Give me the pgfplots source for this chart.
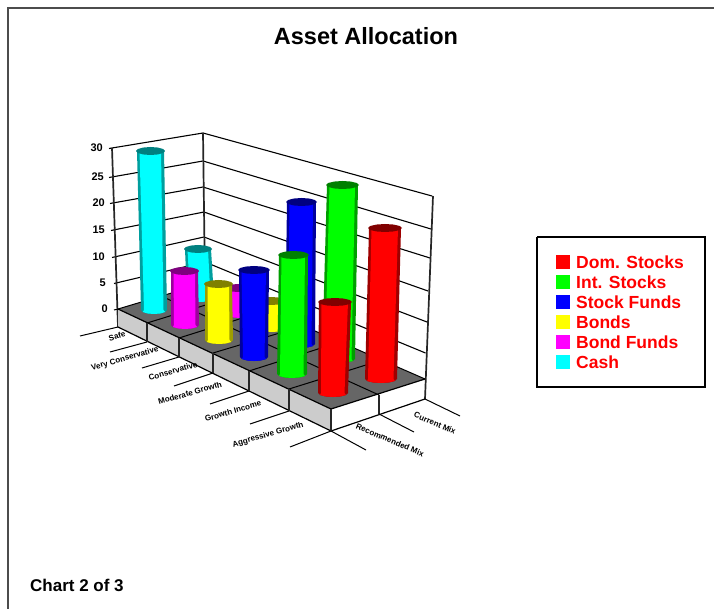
\documentclass[border=0pt]{standalone}
\usepackage{pgfplots}
\pgfplotsset{compat=1.18}
\usepackage{fontspec}
\setmainfont{Liberation Sans}
\definecolor{cRed}{RGB}{255,0,0}\definecolor{dRed}{RGB}{128,0,0}
\definecolor{cGrn}{RGB}{0,255,0}\definecolor{dGrn}{RGB}{0,128,0}
\definecolor{cBlu}{RGB}{0,0,255}\definecolor{dBlu}{RGB}{0,0,128}
\definecolor{cYel}{RGB}{255,255,0}\definecolor{dYel}{RGB}{128,128,0}
\definecolor{cMag}{RGB}{255,0,255}\definecolor{dMag}{RGB}{128,0,128}
\definecolor{cCya}{RGB}{0,255,255}\definecolor{dCya}{RGB}{0,128,128}
\definecolor{floorG}{RGB}{102,102,102}
\definecolor{sideG}{RGB}{204,204,204}
\newcommand\fs[1]{\fontsize{#1}{#1}\selectfont}
\tikzset{
 gl/.style={black,line width=1.1pt},
 fl/.style={black,line width=1pt},
 lt/.style={anchor=west,inner sep=0pt,text=red,font=\fs{17.5}\bfseries},
 yl/.style={anchor=east,inner sep=0pt,font=\fs{11}\bfseries},
 cl/.style={anchor=center,inner sep=0pt,font=\fs{8}\bfseries,rotate=16},
 dl/.style={anchor=center,inner sep=0pt,font=\fs{8}\bfseries,rotate=-23},
}
% cylinder: bright, dark, top xL, top xR, top yc, bottom xL, bottom xR, bottom yc
\newcommand\cyl[8]{%
 \pgfmathsetmacro\mb{(#6+#7)/2}\pgfmathsetmacro\rb{(#7-#6)/2}%
 \pgfmathsetmacro\ax{\mb+.866*\rb}\pgfmathsetmacro\bx{\mb+.5*\rb}%
 \pgfmathsetmacro\cx{\mb-.5*\rb}\pgfmathsetmacro\dx{\mb-.866*\rb}%
 \pgfmathsetmacro\ya{#8+2}\pgfmathsetmacro\yb{#8+3.46}\pgfmathsetmacro\yc{#8+4}%
 \pgfmathsetmacro\tl{#3+1}\pgfmathsetmacro\tr{#4-1}%
 \pgfmathsetmacro\itl{#3+3.5}\pgfmathsetmacro\itr{#4-4}%
 \pgfmathsetmacro\ibl{#6+3}\pgfmathsetmacro\ibr{#7-3.5}%
 \addplot[fill=#1!62!black,draw=none] coordinates {(\tl,#5) (\tr,#5) (#7,#8) (\ax,\ya) (\bx,\yb) (\mb,\yc) (\cx,\yb) (\dx,\ya) (#6,#8)} -- cycle;
 \addplot[fill=#1,draw=none] coordinates {(\itl,#5) (\itr,#5) (\ibr,#8) (\ax,\ya) (\bx,\yb) (\mb,\yc) (\cx,\yb) (\dx,\ya) (\ibl,#8)} -- cycle;
 \pgfmathsetmacro\mt{(#3+#4)/2}\pgfmathsetmacro\rt{(#4-#3)/2}%
 \pgfmathsetmacro\pa{\mt+.866*\rt}\pgfmathsetmacro\pb{\mt+.5*\rt}%
 \pgfmathsetmacro\pc{\mt-.5*\rt}\pgfmathsetmacro\pd{\mt-.866*\rt}%
 \pgfmathsetmacro\ua{#5-2}\pgfmathsetmacro\ub{#5-3.46}\pgfmathsetmacro\uc{#5-4}%
 \pgfmathsetmacro\va{#5+2}\pgfmathsetmacro\vb{#5+3.46}\pgfmathsetmacro\vc{#5+4}%
 \addplot[fill=#2,draw=none] coordinates {(#3,#5) (\pd,\ua) (\pc,\ub) (\mt,\uc) (\pb,\ub) (\pa,\ua) (#4,#5) (\pa,\va) (\pb,\vb) (\mt,\vc) (\pc,\vb) (\pd,\va)} -- cycle;
}
\begin{document}
\begin{tikzpicture}
\begin{axis}[scale only axis,width=714pt,height=609pt,xmin=0,xmax=714,ymin=0,ymax=609,y dir=reverse,hide axis]
\addplot[fill=white,draw=none] coordinates {(0,0) (714,0) (714,609) (0,609)} -- cycle;
% outer frame
\addplot[black!70,line width=1.6pt] coordinates {(8,609) (8,8) (714,8)};
% wall grid
\addplot[gl] coordinates {(109,148.5) (203,133) (432,196)};
\addplot[gl] coordinates {(109,177.5) (203,161) (431,229)};
\addplot[gl] coordinates {(110,203.5) (203,187) (430,258)};
\addplot[gl] coordinates {(111,230.5) (204,212) (428,291)};
\addplot[gl] coordinates {(112,257.5) (204,237) (427,322)};
\addplot[gl] coordinates {(114,283.5) (205,262) (425.5,353)};
\addplot[black!85,line width=1.7pt] coordinates {(112,148) (118,327)};
\addplot[black!85,line width=1.7pt] coordinates {(203,133) (205,285)};
\addplot[black!85,line width=1.7pt] coordinates {(433,196) (425,399)};
% floor slab
\addplot[fill=sideG,draw=none] coordinates {(118,309) (331,409) (331,431) (118,327)} -- cycle;
\addplot[fill=floorG,draw=none] coordinates {(118,309) (205,283) (425,379) (331,409)} -- cycle;
\addplot[fl] coordinates {(114,310) (118,309) (205,283) (425,379)};
\addplot[fl] coordinates {(161,296) (379,395)};
\addplot[fl] coordinates {(147,323) (235,296)};
\addplot[fl] coordinates {(179,338) (268,310)};
\addplot[fl] coordinates {(213,353) (303,326)};
\addplot[fl] coordinates {(249,371) (340,342)};
\addplot[fl] coordinates {(289,389) (382,360)};
\addplot[black,line width=1.2pt] coordinates {(118,309) (331,409) (425,379)};
\addplot[black,line width=1.2pt] coordinates {(118,327) (331,431) (425,399)};
\addplot[black!85,line width=1.7pt] coordinates {(147,323) (147,342)};
\addplot[black!85,line width=1.7pt] coordinates {(179,338) (179,357)};
\addplot[black!85,line width=1.7pt] coordinates {(213,353) (213,373)};
\addplot[black!85,line width=1.7pt] coordinates {(249,371) (249,391)};
\addplot[black!85,line width=1.7pt] coordinates {(289,389) (289,411)};
\addplot[black!85,line width=1.7pt] coordinates {(331,409) (331,431)};
\addplot[black!85,line width=1.7pt] coordinates {(379,395) (379,414)};
% axis tick lines below the slab
\addplot[fl] coordinates {(80,336) (118,327)};
\addplot[fl] coordinates {(110,352) (147,342)};
\addplot[fl] coordinates {(142,368) (179,357)};
\addplot[fl] coordinates {(174,386) (213,373)};
\addplot[fl] coordinates {(210,404) (249,391)};
\addplot[fl] coordinates {(250,424) (289,411)};
\addplot[fl] coordinates {(290,447) (331,431)};
\addplot[fl] coordinates {(331,431) (366,450)};
\addplot[fl] coordinates {(379,414) (414,432)};
\addplot[fl] coordinates {(425,399) (460,416)};
% back row
\cyl{cCya}{dCya}{184}{212}{249}{187}{214}{298}
\cyl{cMag}{dMag}{224}{252}{288}{226}{254}{314}
\cyl{cYel}{dYel}{257}{286}{301}{258}{286}{328}
\cyl{cBlu}{dBlu}{286}{317}{202}{285}{315}{344}
\cyl{cGrn}{dGrn}{326}{359}{185}{322}{355}{359}
\cyl{cRed}{dRed}{368}{402}{228}{365}{397}{379}
% front row
\cyl{cCya}{dCya}{136}{165}{151}{141}{167}{310}
\cyl{cMag}{dMag}{170}{199}{271}{171}{199}{325}
\cyl{cYel}{dYel}{204}{233}{284}{205}{233}{340}
\cyl{cBlu}{dBlu}{238}{270}{270}{240}{268}{357}
\cyl{cGrn}{dGrn}{278}{309}{255}{277}{307}{374}
\cyl{cRed}{dRed}{318}{352}{302}{318}{348}{393}
% legend
\addplot[fill=cRed,draw=none] coordinates {(556,255) (570,255) (570,269) (556,269)} -- cycle;
\addplot[fill=cGrn,draw=none] coordinates {(556,275) (570,275) (570,289) (556,289)} -- cycle;
\addplot[fill=cBlu,draw=none] coordinates {(556,295) (570,295) (570,309) (556,309)} -- cycle;
\addplot[fill=cYel,draw=none] coordinates {(556,315) (570,315) (570,329) (556,329)} -- cycle;
\addplot[fill=cMag,draw=none] coordinates {(556,335) (570,335) (570,349) (556,349)} -- cycle;
\addplot[fill=cCya,draw=none] coordinates {(556,355) (570,355) (570,369) (556,369)} -- cycle;
\addplot[black,line width=1.7pt] coordinates {(537,237) (705,237) (705,387) (537,387) (537,237)};
\node[lt] at (axis cs:576,262) {Dom. Stocks};
\node[lt] at (axis cs:576,282) {Int. Stocks};
\node[lt] at (axis cs:576,302) {Stock Funds};
\node[lt] at (axis cs:576,322) {Bonds};
\node[lt] at (axis cs:576,342) {Bond Funds};
\node[lt] at (axis cs:576,362) {Cash};
% titles
\node[inner sep=0pt,font=\fs{23.5}\bfseries] at (axis cs:366,36) {Asset Allocation};
\node[anchor=west,inner sep=0pt,font=\fs{17}\bfseries] at (axis cs:30,585) {Chart 2 of 3};
% value labels
\node[yl] at (axis cs:103,148) {30};
\node[yl] at (axis cs:104,177) {25};
\node[yl] at (axis cs:105,203) {20};
\node[yl] at (axis cs:105,230) {15};
\node[yl] at (axis cs:105,257) {10};
\node[yl] at (axis cs:106,283) {5};
\node[yl] at (axis cs:108,309) {0};
% NOTE: the category and depth labels are illegible in the reference.
% Their wording below is GUESSED; only position, length and slant were read off it.
\node[cl] at (axis cs:117,336) {Safe};
\node[cl] at (axis cs:125,359) {Very Conservative};
\node[cl] at (axis cs:173,371) {Conservative};
\node[cl] at (axis cs:190,393) {Moderate Growth};
\node[cl] at (axis cs:233,411) {Growth Income};
\node[cl] at (axis cs:268,435) {Aggressive Growth};
\node[dl] at (axis cs:390,440) {Recommended Mix};
\node[dl] at (axis cs:435,423) {Current Mix};
\end{axis}
\end{tikzpicture}
\end{document}
